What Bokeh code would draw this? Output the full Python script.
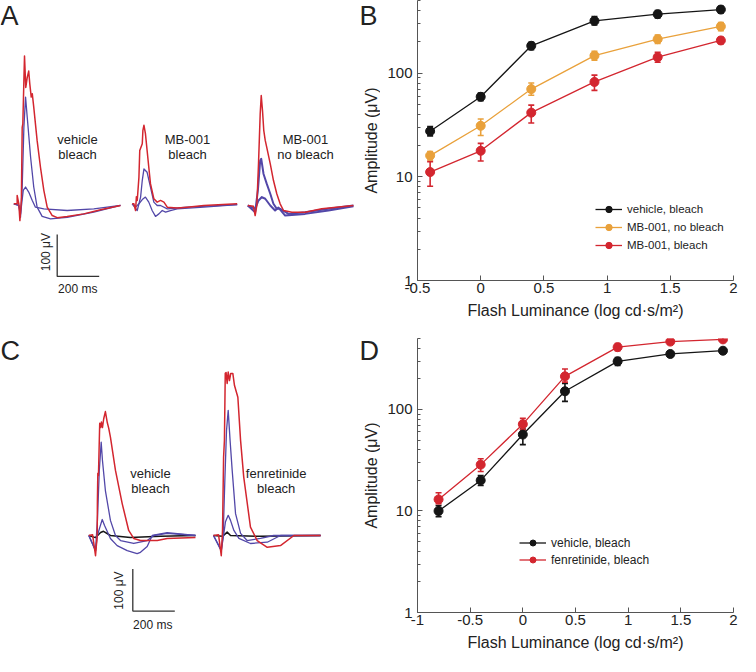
import math
from bokeh.plotting import figure
from bokeh.layouts import row, column
from bokeh.models import (Range1d, FixedTicker, Whisker, TeeHead, ColumnDataSource,
                          Legend, LegendItem, CustomJSTickFormatter)
from bokeh.embed import file_html
from bokeh.resources import INLINE
from bokeh.core.properties import value

FONT = "Liberation Sans"
TXT = "#222222"

# ---------------- Panel B data (amplitude, µV) ----------------
lum_b = [-0.4, 0.0, 0.4, 0.9, 1.4, 1.9]
b_vehicle = [27.5, 59, 183, 318, 369, 409]
b_vehicle_lo = [24.8, 54, 168, 290, 340, 380]
b_vehicle_hi = [30.5, 64, 198, 350, 400, 440]
b_mb_nobleach = [16, 31, 70, 147, 212, 281]
b_mb_nobleach_lo = [14.5, 25, 61, 133, 193, 256]
b_mb_nobleach_hi = [17.5, 36, 80, 162, 232, 306]
b_mb_bleach = [11.1, 17.8, 41.5, 82, 142, 206]
b_mb_bleach_lo = [8.1, 14.2, 33, 68, 127, 192]
b_mb_bleach_hi = [14, 21, 49, 95.5, 158, 221]

# ---------------- Panel D data ----------------
lum_d = [-0.8, -0.4, 0.0, 0.4, 0.9, 1.4, 1.9]
d_vehicle = [10, 20, 56.6, 151, 298, 352, 379]
d_vehicle_lo = [8.8, 17.8, 45, 120, 272, 334, 366]
d_vehicle_hi = [11.3, 22.3, 64, 180, 325, 370, 393]
d_fen = [13, 28.6, 71.6, 212, 411, 466, 490]
d_fen_lo = [11.8, 24.5, 63, 186, 380, 440, 468]
d_fen_hi = [15.1, 32.7, 81.7, 250, 447, 495, 512]

x_ticks_b = [-0.5, 0, 0.5, 1, 1.5, 2]
x_ticks_d = [-1, -0.5, 0, 0.5, 1, 1.5, 2]
y_ticks = [1, 10, 100]
y_minor = [2, 3, 4, 5, 6, 7, 8, 9, 20, 30, 40, 50, 60, 70, 80, 90, 200, 300, 400, 500]

# ---------------- ERG traces (time ms, amplitude µV) ----------------
# Panel A, vehicle bleach
a1_red_t = [0, 16, 16, 24, 29, 36, 40, 43, 48, 51, 57, 64, 71, 76, 83, 88, 95, 111, 127, 143, 159, 183, 207, 254, 333, 413, 508]
a1_red_v = [0, 0, 20, 0, -40, 8, 182, 190, 293, 352, 277, 301, 316, 286, 254, 262, 230, 151, 87, 32, -8, -28, -33, -30, -24, -14, -4]
a1_bmid_t = [0, 24, 32, 40, 48, 56, 64, 80, 95, 111, 135, 175, 254, 381, 508]
a1_bmid_v = [0, -4, -32, 40, 182, 254, 206, 111, 40, -8, -30, -36, -32, -20, -4]
a1_bsm_t = [0, 24, 32, 45, 56, 71, 88, 103, 143, 254, 381, 508]
a1_bsm_v = [0, -4, -24, 32, 40, 28, 8, -8, -12, -16, -12, -4]
# Panel A, MB-001 bleach
a2_red_t = [0, 8, 16, 20, 24, 32, 36, 48, 51, 56, 63, 71, 79, 87, 103, 119, 135, 151, 167, 214, 262, 341, 500]
a2_red_v = [0, 0, -16, 17, 8, 63, 127, 143, 175, 187, 167, 127, 87, 48, 12, 4, 8, 4, -8, -10, -8, -4, 0]
a2_bmid_t = [0, 24, 40, 48, 56, 71, 87, 103, 119, 135, 167, 262, 500]
a2_bmid_v = [0, -16, 16, 56, 83, 75, 40, 4, -4, -4, -12, -8, -2]
a2_bsm_t = [0, 16, 32, 48, 63, 79, 95, 111, 127, 143, 159, 182, 214, 341, 500]
a2_bsm_v = [0, -8, 0, 10, 16, 4, -16, -30, -24, -16, -20, -16, -12, -8, -2]
# Panel A, MB-001 no bleach
a3_red_t = [0, 27, 35, 43, 51, 59, 64, 70, 76, 83, 90, 107, 122, 138, 154, 170, 210, 273, 352, 503]
a3_red_v = [-4, -6, -28, -4, 95, 214, 258, 222, 175, 151, 135, 95, 56, 24, 0, -16, -20, -20, -12, -4]
a3_bmid_t = [0, 35, 48, 59, 64, 75, 90, 107, 122, 138, 154, 194, 273, 384, 503]
a3_bmid_v = [-4, -20, 32, 103, 107, 71, 48, 24, 0, -12, -12, -24, -20, -12, -4]
a3_bsm_t = [0, 35, 51, 67, 83, 107, 130, 146, 178, 273, 384, 503]
a3_bsm_v = [-4, -12, 8, 16, 12, -4, -16, -9, -28, -24, -16, -6]

# Panel C, vehicle bleach
c1_red_t = [0, 18, 32, 40, 41, 43, 46, 50, 52, 56, 60, 65, 71, 79, 88, 95, 103, 127, 159, 190, 214, 246, 326, 373, 508]
c1_red_v = [0, 2, -48, 0, 83, 148, 143, 226, 267, 257, 270, 257, 278, 295, 269, 255, 234, 155, 76, 12, -7, -12, -12, -7, -5]
c1_bmid_t = [0, 32, 41, 50, 59, 65, 79, 103, 127, 151, 214, 278, 310, 373, 508]
c1_bmid_v = [0, -36, 36, 155, 222, 179, 107, 36, 0, -12, -19, -12, 0, 5, 0]
c1_bsm_t = [0, 32, 41, 51, 64, 75, 103, 135, 183, 230, 246, 278, 302, 373, 508]
c1_bsm_v = [0, -36, 0, 17, 38, 24, -7, -24, -36, -43, -40, -26, 0, 7, 0]
c1_blk_t = [0, 32, 56, 70, 103, 198, 341, 508]
c1_blk_v = [0, -5, 7, 10, 0, -5, -2, 0]
# Panel C, fenretinide bleach
c2_red_t = [0, 24, 37, 43, 48, 52, 56, 60, 65, 70, 76, 82, 92, 100, 116, 129, 144, 176, 208, 256, 319, 383, 510]
c2_red_v = [0, 2, -48, 12, 186, 226, 386, 388, 362, 389, 369, 386, 386, 357, 329, 226, 139, 20, -12, -28, -24, 0, 0]
c2_bmid_t = [0, 37, 46, 54, 62, 70, 79, 89, 105, 129, 160, 224, 286, 510]
c2_bmid_v = [0, -36, 0, 131, 250, 298, 226, 155, 52, 5, -12, -7, 0, 0]
c2_bsm_t = [0, 37, 48, 57, 70, 81, 97, 121, 176, 256, 319, 510]
c2_bsm_v = [0, -36, 0, 33, 48, 36, 12, -7, -19, -16, 0, 0]
c2_blk_t = [0, 43, 65, 81, 224, 510]
c2_blk_v = [0, -2, 8, 0, -2, 0]

scale_bar_uv = 100
scale_bar_ms = 200

RED = "#d3262f"
BLUE = "#5247a8"
BLACK = "#151515"
ORANGE = "#e9a13b"
AXIS = "#555555"

PX_PER_MS = 0.21
PX_PER_UV = 0.42

LEFT_W = 380
RIGHT_W = 360
TOP_H = 330
BOT_H = 326


def trace_fig(w, h, base_px):
    p = figure(width=w, height=h,
               x_range=Range1d(0, w / PX_PER_MS),
               y_range=Range1d(-(h - base_px) / PX_PER_UV, base_px / PX_PER_UV),
               x_axis_location=None, y_axis_location=None,
               output_backend="svg", toolbar_location=None, min_border=0)
    p.outline_line_color = None
    p.grid.visible = False
    return p


def add_trace(p, t, v, off, color, lw=1.4):
    p.line([ti + off for ti in t], v, line_color=color, line_width=lw, line_join="round")


def add_text(p, xs, ys, texts, size="13px", angle=0.0, align="center", baseline="middle"):
    p.text(x=xs, y=ys, text=texts, angle=angle, text_font=value(FONT), text_font_size=size,
           text_color=TXT, text_align=align, text_baseline=baseline)


def add_scalebar(p, x0, y0):
    p.line([x0, x0, x0 + scale_bar_ms], [y0 + scale_bar_uv, y0, y0], line_color="#333333", line_width=1.3)


def ms(px):
    return px / PX_PER_MS


# ---------------- Panel A (left column, top) ----------------
A_BASE = 203.3
pA = trace_fig(LEFT_W, TOP_H, A_BASE)
A_TOP = A_BASE / PX_PER_UV
offA = [ms(13.3), ms(131.7), ms(247.3)]
for off, (rt, rv, mt, mv, st, sv), lw in [
        (offA[0], (a1_red_t, a1_red_v, a1_bmid_t, a1_bmid_v, a1_bsm_t, a1_bsm_v), 1.3),
        (offA[1], (a2_red_t, a2_red_v, a2_bmid_t, a2_bmid_v, a2_bsm_t, a2_bsm_v), 1.3),
        (offA[2], (a3_red_t, a3_red_v, a3_bmid_t, a3_bmid_v, a3_bsm_t, a3_bsm_v), 2.0)]:
    add_trace(pA, st, sv, off, BLUE, lw)
    add_trace(pA, mt, mv, off, BLUE, lw)
    add_trace(pA, rt, rv, off, RED, 1.5)
add_text(pA, [ms(77), ms(77), ms(187), ms(187), ms(305), ms(305)], [154, 117, 154, 117, 154, 117],
         ["vehicle", "bleach", "MB-001", "bleach", "MB-001", "no bleach"])
add_scalebar(pA, ms(56.7), -173)
add_text(pA, [ms(45)], [-115], ["100 μV"], size="12px", angle=math.pi / 2)
add_text(pA, [ms(77.3)], [-202], ["200 ms"], size="12px")
add_text(pA, [0, ms(359)], [A_TOP, A_TOP], ["A", "B"], size="27px", align="left", baseline="top")
# y-axis title of panel B (sits in the left column next to B's axis)
add_text(pA, [ms(371)], [(A_BASE - 140) / PX_PER_UV], ["Amplitude (μV)"], size="16px", angle=math.pi / 2)

# ---------------- Panel C (left column, bottom) ----------------
C_BASE = 205.0
pC = trace_fig(LEFT_W, BOT_H, C_BASE)
C_LET = (C_BASE - 5) / PX_PER_UV
offC = [ms(88.3), ms(213)]
for off, traces in [(offC[0], [(c1_blk_t, c1_blk_v, BLACK), (c1_bsm_t, c1_bsm_v, BLUE),
                                (c1_bmid_t, c1_bmid_v, BLUE), (c1_red_t, c1_red_v, RED)]),
                    (offC[1], [(c2_blk_t, c2_blk_v, BLACK), (c2_bsm_t, c2_bsm_v, BLUE),
                               (c2_bmid_t, c2_bmid_v, BLUE), (c2_red_t, c2_red_v, RED)])]:
    for t, v, c in traces:
        add_trace(pC, t, v, off, c, 1.5 if c != BLUE else 1.3)
add_text(pC, [ms(150), ms(150), ms(275.7), ms(275.7)], [147, 111, 147, 111],
         ["vehicle", "bleach", "fenretinide", "bleach"])
add_scalebar(pC, ms(132.3), -180)
add_text(pC, [ms(118.3)], [-131], ["100 μV"], size="12px", angle=math.pi / 2)
add_text(pC, [ms(152.3)], [-212], ["200 ms"], size="12px")
add_text(pC, [0, ms(359)], [C_LET, C_LET], ["C", "D"], size="27px", align="left", baseline="top")
add_text(pC, [ms(371)], [(C_BASE - 145) / PX_PER_UV], ["Amplitude (μV)"], size="16px", angle=math.pi / 2)


# ---------------- log plots ----------------
def log_fig(xr, xticks, top_border, bottom_border, h):
    p = figure(width=RIGHT_W, height=h, y_axis_type="log",
               x_range=Range1d(*xr), y_range=Range1d(1, 500),
               output_backend="svg", toolbar_location=None,
               min_border_left=37, min_border_right=7,
               min_border_top=top_border, min_border_bottom=bottom_border)
    p.outline_line_color = None
    p.grid.visible = False
    p.xaxis[0].ticker = FixedTicker(ticks=xticks, minor_ticks=[])
    p.yaxis[0].ticker = FixedTicker(ticks=y_ticks, minor_ticks=y_minor)
    p.xaxis[0].formatter = CustomJSTickFormatter(code="return tick.toString();")
    p.yaxis[0].formatter = CustomJSTickFormatter(code="return tick.toString();")
    for ax in [p.xaxis[0], p.yaxis[0]]:
        ax.axis_line_color = AXIS
        ax.major_tick_line_color = AXIS
        ax.minor_tick_line_color = AXIS
        ax.major_tick_in = 5
        ax.major_tick_out = 0
        ax.minor_tick_in = 3
        ax.minor_tick_out = 0
        ax.major_label_text_font = FONT
        ax.major_label_text_font_size = "15px"
        ax.major_label_text_color = TXT
        ax.axis_label_text_font = FONT
        ax.axis_label_text_font_size = "16px"
        ax.axis_label_text_font_style = "normal"
        ax.axis_label_text_color = TXT
    p.xaxis[0].major_label_standoff = 2
    p.xaxis[0].axis_label_standoff = 6
    p.yaxis[0].major_label_standoff = 5
    p.xaxis[0].axis_label = "Flash Luminance (log cd·s/m²)"
    return p


def add_series(p, x, y, lo, hi, color):
    ln = p.line(x, y, line_color=color, line_width=1.3)
    src = ColumnDataSource(dict(x=x, lo=lo, hi=hi))
    wk = Whisker(base="x", lower="lo", upper="hi", source=src, line_color=color, line_width=1.6,
                 upper_head=TeeHead(size=6, line_color=color, line_width=1.6),
                 lower_head=TeeHead(size=6, line_color=color, line_width=1.6))
    p.add_layout(wk)
    sc = p.scatter(x, y, size=9, fill_color=color, line_color=color)
    return [ln, sc]


LEG_PAD = 4


def add_legend(p, items, loc, lh, size):
    lg = Legend(items=[LegendItem(label=l, renderers=r) for l, r in items],
                location=(loc[0] - LEG_PAD, loc[1] - LEG_PAD))
    lg.glyph_width = 27
    lg.glyph_height = lh
    lg.label_height = lh
    lg.spacing = 2
    lg.padding = LEG_PAD
    lg.margin = 0
    lg.label_standoff = 5
    lg.border_line_alpha = 0
    lg.background_fill_alpha = 0
    lg.label_text_font = FONT
    lg.label_text_font_size = size
    lg.label_text_color = TXT
    p.add_layout(lg)


pB = log_fig((-0.5, 2), x_ticks_b, 0, 50, TOP_H)
rB1 = add_series(pB, lum_b, b_vehicle, b_vehicle_lo, b_vehicle_hi, BLACK)
rB2 = add_series(pB, lum_b, b_mb_nobleach, b_mb_nobleach_lo, b_mb_nobleach_hi, ORANGE)
rB3 = add_series(pB, lum_b, b_mb_bleach, b_mb_bleach_lo, b_mb_bleach_hi, RED)
add_legend(pB, [("vehicle, bleach", rB1), ("MB-001, no bleach", rB2), ("MB-001, bleach", rB3)],
           (178, 27), 16, "11.5px")

pD = log_fig((-1, 2), x_ticks_d, 8, 44, BOT_H)
rD1 = add_series(pD, lum_d, d_vehicle, d_vehicle_lo, d_vehicle_hi, BLACK)
rD2 = add_series(pD, lum_d, d_fen, d_fen_lo, d_fen_hi, RED)
add_legend(pD, [("vehicle, bleach", rD1), ("fenretinide, bleach", rD2)], (102, 45), 15, "12px")

layout = row(column(pA, pC), column(pB, pD))
open("out.html", "w").write(file_html(layout, INLINE))
